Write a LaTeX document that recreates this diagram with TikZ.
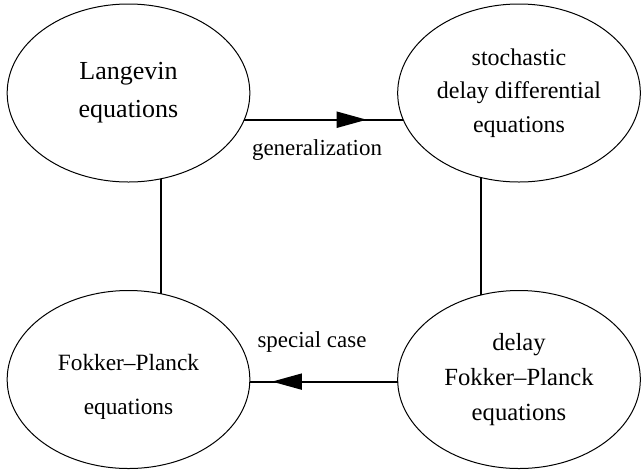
\documentclass[tikz,border=0pt]{standalone}
\usepackage{fontspec}
\setmainfont{Liberation Serif}
\usetikzlibrary{shapes.geometric,arrows.meta,decorations.markings}

\tikzset{
  eqn/.style={draw, ellipse, line width=0.75pt, inner sep=0pt, outer sep=0pt,
    minimum width=182pt, minimum height=133.5pt, align=center},
  link/.style={line width=1.5pt},
  flow/.style={line width=1.5pt, postaction={decorate},
    decoration={markings, mark=at position #1 with {\arrow{Triangle[length=22.5pt,width=12pt]}}}},
  lbl/.style={anchor=base, inner sep=0.75pt, font=\fontsize{17.2}{20}\selectfont}
}

\begin{document}
\begin{tikzpicture}[x=0.75pt,y=0.75pt,yscale=-1,xscale=1]
        \useasboundingbox (0,0) rectangle (642,472);
        %Shape: Ellipse [id:lang]
        \node [eqn, font=\fontsize{19.5}{28.5}\selectfont] (lang) at (128.5,93) {Langevin\\equations};
        %Shape: Ellipse [id:sdde]
        \node [eqn, font=\fontsize{18}{25}\selectfont] (sdde) at (519,93) {stochastic\\delay differential\\equations};
        %Shape: Ellipse [id:fp]
        \node [eqn, font=\fontsize{17.5}{33}\selectfont] (fp) at (128.5,379.5) {\rule{0pt}{22.5pt}Fokker--Planck\\equations};
        %Shape: Ellipse [id:dfp]
        \node [eqn, font=\fontsize{18.5}{26.5}\selectfont] (dfp) at (519,379.5) {delay\\Fokker--Planck\\equations};
        %Straight Lines [id:gen]
        \draw [flow=0.77]    (lang.-13.1) -- (sdde.193.1) ;
        %Straight Lines [id:spec]
        \draw [flow=0.85]    (dfp.181.2) -- (fp.-1.2) ;
        %Straight Lines [id:left]
        \draw [link]    (lang.-69.3) -- (fp.69.3) ;
        %Straight Lines [id:right]
        \draw [link]    (sdde.-114.2) -- (dfp.114.2) ;
        % Text Node
        \node [lbl] (genlbl) at (317,155) {generalization};
        % Text Node
        \node [lbl] (speclbl) at (312,347) {special case};
\end{tikzpicture}
\end{document}
